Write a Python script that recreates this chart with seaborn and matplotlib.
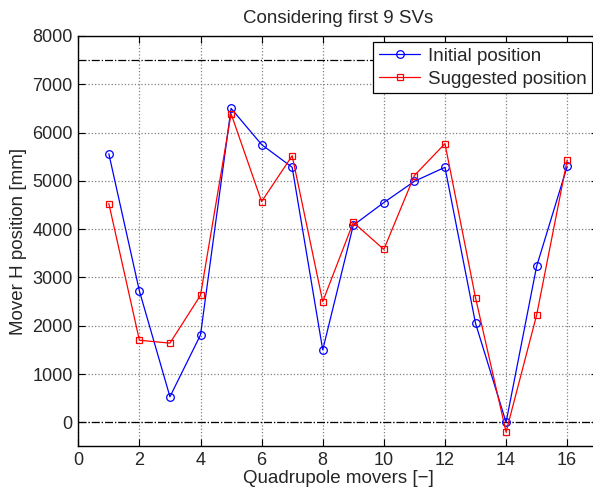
import numpy as np
import pandas as pd
import matplotlib
matplotlib.use("Agg")
import matplotlib.pyplot as plt
from matplotlib.lines import Line2D
import seaborn as sns

movers = list(range(1, 17))
initial = [5560, 2720, 530, 1810, 6500, 5750, 5280, 1500, 4080, 4550, 4990, 5280, 2050, 0, 3230, 5300]
suggested = [4530, 1700, 1640, 2630, 6390, 4570, 5520, 2500, 4140, 3580, 5110, 5770, 2580, -200, 2220, 5430]
ref_lines = [7500, 0]
xticks = list(range(0, 17, 2))
yticks = list(range(0, 8001, 1000))
series_names = ["Initial position", "Suggested position"]
colors = {"Initial position": "blue", "Suggested position": "red"}
markers = {"Initial position": "o", "Suggested position": "s"}
msizes = {"Initial position": 5.5, "Suggested position": 4.8}

sns.set_theme(style="white")
plt.rcParams['font.family'] = ['Liberation Sans', 'DejaVu Sans']
plt.rcParams['xtick.direction'] = 'in'
plt.rcParams['ytick.direction'] = 'in'

df = pd.DataFrame({
    "mover": movers * 2,
    "value": initial + suggested,
    "series": [series_names[0]] * len(movers) + [series_names[1]] * len(movers),
})

fig = plt.figure(figsize=(5.93, 4.92), dpi=100)
ax = fig.add_axes([0.132, 0.0925, 0.876, 0.8345])

for y in ref_lines:
    ax.axhline(y, color="black", linestyle="-.", linewidth=0.9, zorder=1)

sns.lineplot(data=df, x="mover", y="value", hue="series", style="series",
             palette=colors, markers=markers, dashes=False, ax=ax,
             linewidth=0.9, legend=False, zorder=3)
for line, name in zip(ax.lines[len(ref_lines):], series_names):
    line.set_markerfacecolor("none")
    line.set_markeredgecolor(colors[name])
    line.set_markeredgewidth(0.9)
    line.set_markersize(msizes[name])

ax.set_xlim(0, 17)
ax.set_ylim(-500, 8000)
ax.set_xticks(xticks)
ax.set_yticks(yticks)
ax.tick_params(axis="both", labelsize=13, length=5, width=0.8, color="black",
               top=True, right=True, bottom=True, left=True, pad=4)
ax.grid(True, linestyle=":", color="#808080", linewidth=0.9)
for s in ax.spines.values():
    s.set_color("black")
    s.set_linewidth(1.0)

ax.set_xlabel("Quadrupole movers [\u2212]", fontsize=13.5, labelpad=1)
ax.set_ylabel("Mover H position [mm]", fontsize=13.5, labelpad=4)
ax.set_title("Considering first 9 SVs", fontsize=13.5, pad=9)

handles = [Line2D([0], [0], color=colors[n], marker=markers[n], markersize=msizes[n],
                  markerfacecolor="none", markeredgecolor=colors[n],
                  markeredgewidth=0.9, linewidth=0.9) for n in series_names]
leg = ax.legend(handles, series_names, loc="upper right", bbox_to_anchor=(0.989, 0.985),
                fontsize=13.5, frameon=True, fancybox=False, edgecolor="black",
                framealpha=1, borderpad=0.3, handlelength=2.2, handletextpad=0.4,
                labelspacing=0.3, borderaxespad=0)
leg.get_frame().set_linewidth(0.9)

fig.savefig("out.png", dpi=100)
